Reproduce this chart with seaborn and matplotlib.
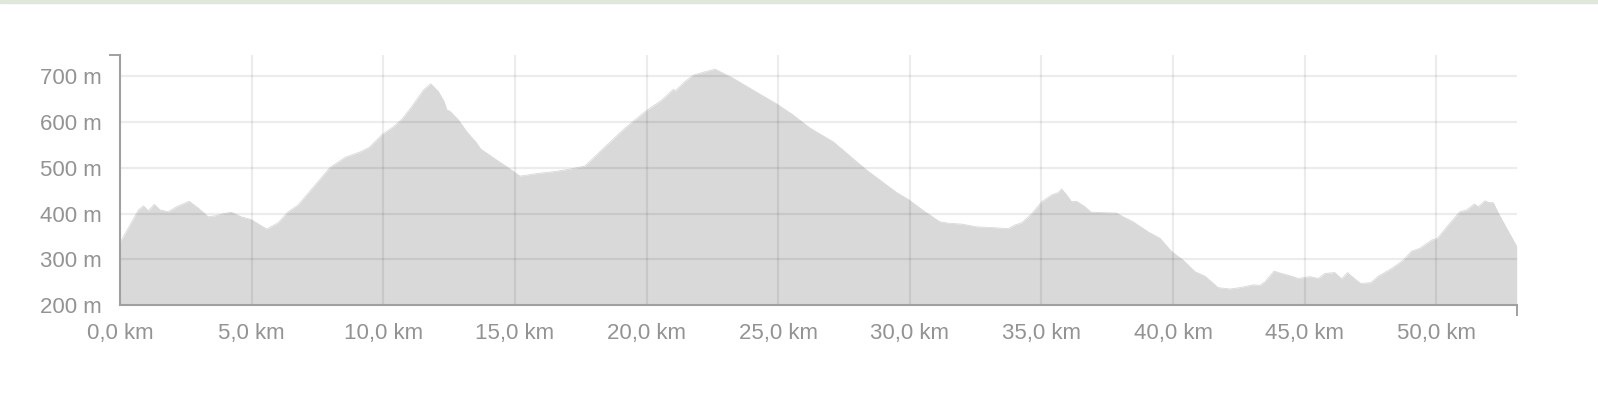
import matplotlib
matplotlib.use("Agg")
import matplotlib.pyplot as plt
import seaborn as sns
import pandas as pd

km = [0, 0.7, 0.89, 1.07, 1.30, 1.52, 1.83, 2.15, 2.62, 2.97,
      3.35, 3.61, 3.86, 4.22, 4.60, 4.98, 5.26, 5.57, 6.01, 6.39,
      6.77, 7.30, 7.98, 8.55, 9.12, 9.47, 9.94, 10.38, 10.70, 11.08,
      11.52, 11.80, 12.09, 12.31, 12.41, 12.53, 12.85, 13.17, 13.55, 13.70,
      13.86, 14.31, 14.75, 15.19, 15.89, 16.52, 17.15, 17.66, 18.42, 19.18,
      19.94, 20.57, 21.02, 21.08, 21.46, 21.78, 22.20, 22.60, 23.29, 24.05,
      24.94, 25.51, 26.21, 27.09, 27.60, 28.36, 28.99, 29.50, 29.94, 30.57,
      31.14, 31.46, 31.97, 32.54, 33.23, 33.74, 33.99, 34.25, 34.62, 35.01,
      35.39, 35.64, 35.76, 35.95, 36.14, 36.33, 36.65, 36.88, 37.85, 38.10,
      38.48, 39.05, 39.50, 39.94, 40.38, 40.83, 41.21, 41.71, 42.16, 42.54,
      43.04, 43.30, 43.49, 43.83, 44.12, 44.50, 44.75, 45.20, 45.51, 45.76,
      46.14, 46.40, 46.62, 46.88, 47.13, 47.51, 47.79, 48.30, 48.74, 49.06,
      49.37, 49.82, 50.04, 50.45, 50.89, 51.15, 51.44, 51.59, 51.84, 51.99,
      52.16, 52.35, 53.05]
altitud = [336, 408, 417, 406, 420, 408, 404, 415, 427, 412,
           393, 395, 399, 403, 393, 387, 377, 366, 380, 404,
           419, 455, 501, 523, 535, 545, 572, 590, 606, 634,
           670, 684, 667, 645, 627, 624, 605, 579, 554, 541,
           535, 517, 500, 482, 488, 492, 498, 504, 546, 587,
           623, 648, 672, 668, 689, 703, 710, 716, 696, 670,
           640, 618, 587, 557, 532, 495, 468, 446, 431, 404,
           382, 379, 377, 371, 369, 367, 375, 380, 399, 426,
           441, 446, 454, 441, 426, 427, 415, 403, 401, 393,
           382, 360, 346, 317, 298, 273, 263, 238, 235, 238,
           244, 243, 251, 274, 269, 263, 258, 262, 258, 269,
           271, 257, 271, 258, 247, 249, 263, 280, 298, 318,
           324, 342, 346, 375, 404, 408, 421, 415, 428, 424,
           424, 401, 328]

x_ticks = [0, 5, 10, 15, 20, 25, 30, 35, 40, 45, 50]
y_ticks = [200, 300, 400, 500, 600, 700]
x_max = 53.05
y_min, y_max = 200, 747

df = pd.DataFrame({"km": km, "altitud": altitud})

sns.set_theme(style="white")
plt.rcParams["font.family"] = ["Liberation Sans", "DejaVu Sans"]

gris_eje = "#a0a0a0"
gris_txt = "#939393"

fig = plt.figure(figsize=(15.98, 4.12), dpi=100)
ax = fig.add_axes([120 / 1598, 107 / 412, (1516.7 - 120) / 1598, 250 / 412])

sns.lineplot(data=df, x="km", y="altitud", ax=ax, color="#d9d9d9", linewidth=0.6, zorder=1)
ax.fill_between(df["km"], df["altitud"], y_min, color="#d9d9d9", linewidth=0, zorder=1)

ax.set_xlim(0, x_max)
ax.set_ylim(y_min, y_max)

# rejilla por encima del relleno
ax.set_axisbelow(False)
for v in x_ticks[1:]:
    ax.axvline(v, color="black", alpha=0.075, linewidth=1.6, zorder=2)
for v in y_ticks[1:]:
    ax.axhline(v, color="black", alpha=0.075, linewidth=1.6, zorder=2)

ax.set_xticks(x_ticks)
ax.set_xticklabels([f"{v:.1f}".replace(".", ",") + " km" for v in x_ticks])
ax.set_yticks(y_ticks)
ax.set_yticklabels([f"{v} m" for v in y_ticks])
ax.set_xticks([0, x_max], minor=True)
ax.set_yticks([y_min, y_max], minor=True)

ax.tick_params(axis="both", which="major", length=0, labelsize=16, labelcolor=gris_txt)
ax.tick_params(axis="x", which="major", pad=13)
ax.tick_params(axis="y", which="major", pad=13)
ax.tick_params(axis="both", which="minor", length=8, width=1.4, color=gris_eje,
               bottom=True, left=True)

for lado in ["top", "right"]:
    ax.spines[lado].set_visible(False)
for lado in ["left", "bottom"]:
    ax.spines[lado].set_color(gris_eje)
    ax.spines[lado].set_linewidth(1.5)
    ax.spines[lado].set_zorder(3)

ax.set_xlabel("")
ax.set_ylabel("")

# franja del mapa en el borde superior
fig.patches.append(plt.Rectangle((0, 1 - 3 / 412), 1, 3 / 412, transform=fig.transFigure,
                                 color="#dfe6dc", zorder=0))

fig.savefig("out.png", dpi=100)
